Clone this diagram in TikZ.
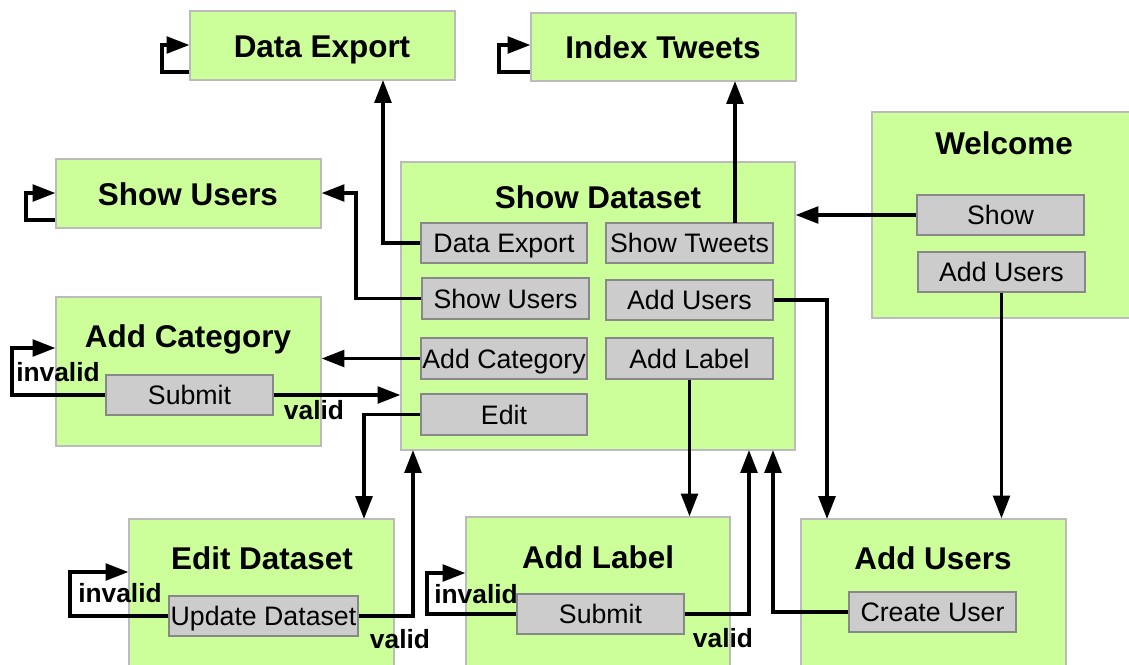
\documentclass[tikz,border=0pt]{standalone}
\usepackage{fontspec}
\setmainfont{Liberation Sans}
\usetikzlibrary{arrows.meta}
\definecolor{scrgreen}{HTML}{CCFF99}
\definecolor{scrborder}{HTML}{BBBBBB}
\definecolor{btnfill}{HTML}{CCCCCC}
\definecolor{btnborder}{HTML}{888888}
\newcommand\mkbox[7]{\node[#1, minimum width={(#5-#3)*0.02cm}, minimum height={(#6-#4)*0.02cm}] (#2) at ({(#3+#5)/2},{(#4+#6)/2}) {#7};}
\begin{document}
\begin{tikzpicture}[x=0.02cm,y=-0.02cm,
  screen/.style={draw=scrborder, fill=scrgreen, line width=0.7pt, inner sep=0pt},
  btn/.style={draw=btnborder, fill=btnfill, line width=0.7pt, inner sep=0pt, text height=10.9pt, text depth=0pt, font=\fontsize{15.2}{17}\selectfont},
  title/.style={font=\fontsize{17.9}{20}\selectfont\bfseries, inner sep=0pt, anchor=base},
  lbl/.style={font=\fontsize{15}{17}\selectfont\bfseries, inner sep=0pt},
  arr/.style={line width=2pt, -{Triangle[length=13pt,width=9.5pt]}}]
\useasboundingbox (0,0) rectangle (1129,664);
\clip (0,0) rectangle (1129,664);
\fill[white] (0,0) rectangle (1129,664);
% screens
\mkbox{screen}{DE}{190}{11}{455}{80}{}
\mkbox{screen}{IT}{531}{13}{796}{81}{}
\mkbox{screen}{SU}{56}{159}{321}{228}{}
\mkbox{screen}{SD}{401}{162}{795}{450}{}
\mkbox{screen}{WE}{872}{112}{1140}{318}{}
\mkbox{screen}{AC}{56}{297}{321}{446}{}
\mkbox{screen}{ED}{129}{519}{394}{680}{}
\mkbox{screen}{AL}{466}{517}{730}{680}{}
\mkbox{screen}{AU}{801}{519}{1066}{680}{}
% titles
\node[title] (tDE) at (322,57) {Data Export};
\node[title] (tIT) at (663,58) {Index Tweets};
\node[title] (tSU) at (188,205) {Show Users};
\node[title] (tSD) at (598,208) {Show Dataset};
\node[title] (tWE) at (1004,154) {Welcome};
\node[title] (tAC) at (188,347) {Add Category};
\node[title] (tED) at (262,569) {Edit Dataset};
\node[title] (tAL) at (598,568) {Add Label};
\node[title] (tAU) at (933,569) {Add Users};
% buttons
\mkbox{btn}{bDE}{421}{223}{587}{263}{Data Export}
\mkbox{btn}{bST}{606}{223}{773}{263}{Show Tweets}
\mkbox{btn}{bSU}{422}{278}{589}{319}{Show Users}
\mkbox{btn}{bAU}{606}{280}{773}{320}{Add Users}
\mkbox{btn}{bAC}{421}{338}{587}{379}{Add Category}
\mkbox{btn}{bAL}{606}{338}{773}{379}{Add Label}
\mkbox{btn}{bED}{421}{394}{587}{435}{Edit}
\mkbox{btn}{wS}{917}{195}{1084}{235}{Show}
\mkbox{btn}{wAU}{918}{252}{1085}{292}{Add Users}
\mkbox{btn}{acS}{106}{375}{273}{415}{Submit}
\mkbox{btn}{edU}{169}{596}{358}{636}{Update Dataset}
\mkbox{btn}{alS}{517}{594}{684}{634}{Submit}
\mkbox{btn}{auC}{849}{592}{1016}{632}{Create User}
% helper coordinates
\coordinate (deIn) at (383,80);
\coordinate (itIn) at (735,81);
\coordinate (stOut) at (735,223);
\coordinate (suTurn) at (356,193);
\coordinate (edIn) at (364,519);
\coordinate (sdInE) at (413,450);
\coordinate (sdInL) at (749,450);
\coordinate (sdInU) at (773,450);
\coordinate (auIn1) at (827,519);
\coordinate (deLoopA) at (162,72);
\coordinate (deLoopB) at (162,45);
\coordinate (itLoopA) at (499,72);
\coordinate (itLoopB) at (499,45);
\coordinate (suLoopA) at (26,220);
\coordinate (suLoopB) at (26,193);
\coordinate (acLoopA) at (12,395);
\coordinate (acLoopB) at (12,348);
\coordinate (edLoopA) at (70,616);
\coordinate (edLoopB) at (70,572);
\coordinate (alLoopA) at (427,614);
\coordinate (alLoopB) at (427,573);
% connectors from Show Dataset
\draw[arr] (bDE.west) -| (deIn);
\draw[arr] (stOut) -- (itIn);
\draw[arr] (bSU.west) -| (suTurn) -- (suTurn -| SU.east);
\draw[arr] (bAC.west) -- (bAC.west -| AC.east);
\draw[arr] (bED.west) -| (edIn);
\draw[arr] (bAL.south) -- (bAL.south |- AL.north);
\draw[arr] (bAU.east) -| (auIn1);
% welcome
\draw[arr] (wS.west) -- (wS.west -| SD.east);
\draw[arr] (wAU.south) -- (wAU.south |- AU.north);
% forms
\draw[arr] (acS.east) -- (acS.east -| SD.west);
\draw[arr] (acS.west) -- (acS.west -| acLoopA) -- (acLoopB) -- (acLoopB -| AC.west);
\draw[arr] (edU.east) -| (sdInE);
\draw[arr] (edU.west) -- (edU.west -| edLoopA) -- (edLoopB) -- (edLoopB -| ED.west);
\draw[arr] (alS.east) -| (sdInL);
\draw[arr] (alS.west) -- (alS.west -| alLoopA) -- (alLoopB) -- (alLoopB -| AL.west);
\draw[arr] (auC.west) -| (sdInU);
% self loops
\draw[arr] (deLoopA -| DE.west) -- (deLoopA) -- (deLoopB) -- (deLoopB -| DE.west);
\draw[arr] (itLoopA -| IT.west) -- (itLoopA) -- (itLoopB) -- (itLoopB -| IT.west);
\draw[arr] (suLoopA -| SU.west) -- (suLoopA) -- (suLoopB) -- (suLoopB -| SU.west);
% labels
\node[lbl] (l1) at (58,372) {invalid};
\node[lbl] (l2) at (314,410) {valid};
\node[lbl] (l3) at (120,593) {invalid};
\node[lbl] (l4) at (400,639) {valid};
\node[lbl] (l5) at (476,594) {invalid};
\node[lbl] (l6) at (723,638) {valid};
\end{tikzpicture}
\end{document}
